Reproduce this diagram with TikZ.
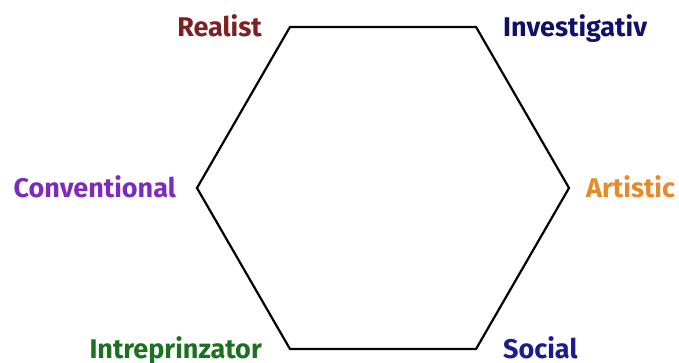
\documentclass[tikz,border=0pt]{standalone}
\usepackage{fontspec}
\setmainfont{Fira Sans}
\usetikzlibrary{calc, positioning}
\definecolor{typeR}{HTML}{7F1F1F}
\definecolor{typeI}{HTML}{10106A}
\definecolor{typeA}{HTML}{E8892A}
\definecolor{typeS}{HTML}{1C1C8E}
\definecolor{typeE}{HTML}{1E7021}
\definecolor{typeC}{HTML}{7B2CBF}
\tikzstyle{hexedge}=[draw=black, line width=2.2pt, line join=miter]
\tikzstyle{type}=[inner sep=0pt, font=\bfseries\fontsize{27}{32}\selectfont, text height=18.6pt, text depth=0pt]

\begin{document}
\begin{tikzpicture}
				\useasboundingbox (0,0) rectangle (679pt,363pt);
				\coordinate (O) at (383pt,175pt);
				\coordinate (A) at ($(O)+(120:186pt)$);
				\coordinate (B) at ($(O)+( 60:186pt)$);
				\coordinate (C) at ($(O)+(  0:186pt)$);
				\coordinate (D) at ($(O)+(300:186pt)$);
				\coordinate (E) at ($(O)+(240:186pt)$);
				\coordinate (F) at ($(O)+(180:186pt)$);

				\draw[hexedge] (A) -- (B) -- (C) -- (D) -- (E) -- (F) -- cycle;

				\node[type, text=typeR, left=28pt of A] (realist) {Realist};
				\node[type, text=typeI, right=27pt of B] (investigativ) {Investigativ};
				\node[type, text=typeA, right=17pt of C] (artistic) {Artistic};
				\node[type, text=typeS, right=27pt of D] (social) {Social};
				\node[type, text=typeE, left=28pt of E] (intreprinzator) {Intreprinzator};
				\node[type, text=typeC, left=21pt of F] (conventional) {Conventional};
			\end{tikzpicture}
\end{document}
